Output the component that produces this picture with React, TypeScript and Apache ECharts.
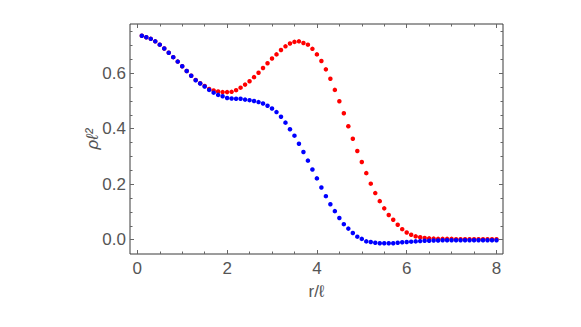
import React, { useEffect, useRef } from "react";
import * as echarts from "echarts";

const rValues = [
  0.1, 0.2, 0.3, 0.4, 0.5, 0.6, 0.7, 0.8, 0.9, 1.0,
  1.1, 1.2, 1.3, 1.4, 1.5, 1.6, 1.7, 1.8, 1.9, 2.0,
  2.1, 2.2, 2.3, 2.4, 2.5, 2.6, 2.7, 2.8, 2.9, 3.0,
  3.1, 3.2, 3.3, 3.4, 3.5, 3.6, 3.7, 3.8, 3.9, 4.0,
  4.1, 4.2, 4.3, 4.4, 4.5, 4.6, 4.7, 4.8, 4.9, 5.0,
  5.1, 5.2, 5.3, 5.4, 5.5, 5.6, 5.7, 5.8, 5.9, 6.0,
  6.1, 6.2, 6.3, 6.4, 6.5, 6.6, 6.7, 6.8, 6.9, 7.0,
  7.1, 7.2, 7.3, 7.4, 7.5, 7.6, 7.7, 7.8, 7.9, 8.0,
];

const blueValues = [
  0.735, 0.730, 0.724, 0.715, 0.703, 0.689, 0.674, 0.658, 0.642, 0.625,
  0.608, 0.591, 0.575, 0.563, 0.552, 0.540, 0.530, 0.522, 0.517, 0.511,
  0.509, 0.508, 0.508, 0.505, 0.503, 0.500, 0.496, 0.491, 0.483, 0.473,
  0.460, 0.443, 0.422, 0.398, 0.375, 0.346, 0.316, 0.285, 0.253, 0.221,
  0.188, 0.157, 0.128, 0.103, 0.078, 0.056, 0.040, 0.024, 0.011, 0.003,
  -0.006, -0.008, -0.011, -0.013, -0.013, -0.013, -0.013, -0.011, -0.009, -0.008,
  -0.007, -0.006, -0.005, -0.004, -0.004, -0.003, -0.003, -0.002, -0.002, -0.002,
  -0.002, -0.002, -0.002, -0.002, -0.002, -0.002, -0.002, -0.002, -0.002, -0.002,
];

const redValues = [
  0.735, 0.730, 0.724, 0.715, 0.703, 0.689, 0.674, 0.658, 0.642, 0.625,
  0.608, 0.591, 0.576, 0.564, 0.554, 0.543, 0.538, 0.534, 0.532, 0.532,
  0.533, 0.539, 0.548, 0.559, 0.571, 0.586, 0.602, 0.619, 0.636, 0.653,
  0.668, 0.684, 0.697, 0.707, 0.713, 0.715, 0.709, 0.703, 0.688, 0.668,
  0.644, 0.614, 0.580, 0.540, 0.499, 0.456, 0.409, 0.364, 0.320, 0.280,
  0.240, 0.202, 0.168, 0.139, 0.113, 0.089, 0.072, 0.054, 0.038, 0.026,
  0.018, 0.012, 0.009, 0.006, 0.005, 0.004, 0.003, 0.003, 0.003, 0.003,
  0.002, 0.002, 0.002, 0.002, 0.002, 0.002, 0.002, 0.002, 0.002, 0.002,
];

const xMajorTicks = [0, 2, 4, 6, 8];
const xMinorTicks = [0.5, 1, 1.5, 2.5, 3, 3.5, 4.5, 5, 5.5, 6.5, 7, 7.5];
const yMajorTicks = [0, 0.2, 0.4, 0.6];
const yMinorTicks = [0.05, 0.1, 0.15, 0.25, 0.3, 0.35, 0.45, 0.5, 0.55, 0.65, 0.7, 0.75];

const xTitle = "r/ℓ";
const yTitle = "ρℓ²";

const X_MIN = -0.163;
const X_MAX = 8.145;
const Y_MIN = -0.0515;
const Y_MAX = 0.7775;

const FONT = "'Liberation Sans', Arial, sans-serif";
const LABEL_COLOR = "#555555";
const TICK_COLOR = "#666666";

function xAxisDef(position: "top" | "bottom", ticks: number[], len: number, labels: boolean, name?: string) {
  return {
    type: "value",
    position,
    min: X_MIN,
    max: X_MAX,
    axisLine: { show: false, onZero: false },
    splitLine: { show: false },
    axisTick: {
      show: true,
      inside: true,
      length: len,
      customValues: ticks,
      lineStyle: { color: TICK_COLOR, width: 1 },
    },
    axisLabel: labels
      ? {
          show: true,
          customValues: ticks,
          margin: 6,
          color: LABEL_COLOR,
          fontSize: 17,
          fontFamily: FONT,
          formatter: (v: number) => String(v),
        }
      : { show: false },
    name: name || "",
    nameLocation: "middle",
    nameGap: 37,
    nameMoveOverlap: false,
    nameTextStyle: { color: LABEL_COLOR, fontSize: 17, fontFamily: FONT, verticalAlign: "middle" },
  };
}

function yAxisDef(position: "left" | "right", ticks: number[], len: number, labels: boolean, name?: string) {
  return {
    type: "value",
    position,
    min: Y_MIN,
    max: Y_MAX,
    axisLine: { show: false, onZero: false },
    splitLine: { show: false },
    axisTick: {
      show: true,
      inside: true,
      length: len,
      customValues: ticks,
      lineStyle: { color: TICK_COLOR, width: 1 },
    },
    axisLabel: labels
      ? {
          show: true,
          customValues: ticks,
          margin: 4,
          color: LABEL_COLOR,
          fontSize: 17,
          fontFamily: FONT,
          formatter: (v: number) => v.toFixed(1),
        }
      : { show: false },
    name: name || "",
    nameLocation: "middle",
    nameGap: 38,
    nameRotate: 90,
    nameMoveOverlap: false,
    nameTextStyle: {
      color: LABEL_COLOR,
      fontSize: 17,
      fontStyle: "italic",
      fontFamily: FONT,
      verticalAlign: "middle",
    },
  };
}

export default function App() {
  const ref = useRef<HTMLDivElement>(null);

  useEffect(() => {
    if (!ref.current) return;
    const chart = echarts.init(ref.current, null, { renderer: "svg" });
    const blueData = rValues.map((r, i) => [r, blueValues[i]]);
    const redData = rValues.map((r, i) => [r, redValues[i]]);
    chart.setOption({
      animation: false,
      backgroundColor: "#ffffff",
      grid: {
        left: 130,
        right: 78,
        top: 24,
        bottom: 73,
        show: true,
        borderColor: "#3a3a3a",
        borderWidth: 1,
        backgroundColor: "transparent",
      },
      xAxis: [
        xAxisDef("bottom", xMajorTicks, 4, true, xTitle),
        xAxisDef("bottom", xMinorTicks, 2.5, false),
        xAxisDef("top", xMajorTicks, 4, false),
        xAxisDef("top", xMinorTicks, 2.5, false),
      ],
      yAxis: [
        yAxisDef("left", yMajorTicks, 4, true, yTitle),
        yAxisDef("left", yMinorTicks, 2.5, false),
        yAxisDef("right", yMajorTicks, 4, false),
        yAxisDef("right", yMinorTicks, 2.5, false),
      ],
      series: [
        {
          type: "scatter",
          name: "red",
          xAxisIndex: 0,
          yAxisIndex: 0,
          data: redData,
          symbol: "circle",
          symbolSize: 4.5,
          itemStyle: { color: "#ff0000", opacity: 1 },
        },
        {
          type: "scatter",
          name: "blue",
          xAxisIndex: 0,
          yAxisIndex: 0,
          data: blueData,
          symbol: "circle",
          symbolSize: 4.5,
          itemStyle: { color: "#0000ff", opacity: 1 },
        },
      ],
    });
    return () => chart.dispose();
  }, []);

  return (
    <div
      ref={ref}
      style={{ position: "fixed", left: 0, top: 0, width: 581, height: 327, background: "#fff" }}
    />
  );
}
